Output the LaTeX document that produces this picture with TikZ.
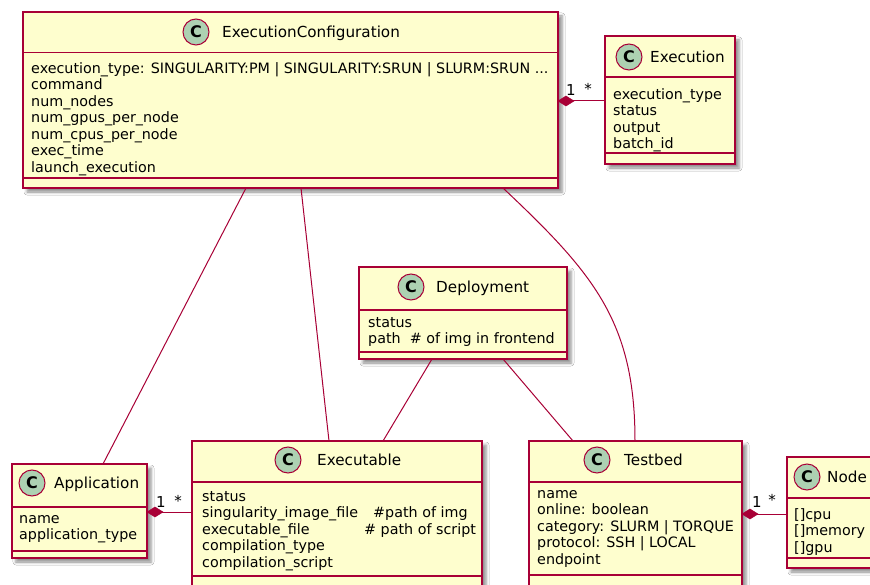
\documentclass[tikz,border=0pt]{standalone}
\usepackage{fontspec}
\setmainfont{DejaVu Sans}
\usetikzlibrary{shadows.blur}

\definecolor{umlfill}{HTML}{FEFECE}
\definecolor{umlborder}{HTML}{A80036}
\definecolor{umlspot}{HTML}{ADD1B2}

\tikzset{
  umlbox/.style={draw=umlborder, fill=umlfill, line width=1.5pt, inner sep=0pt, outer sep=0pt,
    blur shadow={shadow xshift=4pt, shadow yshift=-4pt, shadow blur radius=3pt, shadow opacity=45}},
  sepline/.style={draw=umlborder, line width=1.5pt},
  link/.style={draw=umlborder, line width=1pt},
  spot/.style={circle, draw=umlborder, fill=umlspot, line width=1pt, minimum size=26pt, inner sep=0pt,
    font=\fontsize{16}{16}\selectfont\bfseries},
  classtitle/.style={anchor=base west, inner sep=0pt, font=\fontsize{15.2}{18}\selectfont},
  % attribute lists: the node's north edge sits a strut height above the first baseline
  attrs/.style={anchor=north west, inner sep=0pt, align=left, yshift=8pt,
    font=\fontsize{14.3}{16.5}\selectfont, execute at begin node=\strut},
  mult/.style={inner sep=0pt, font=\fontsize{15}{16}\selectfont},
  composition/.style={fill=umlborder, draw=umlborder, line width=0.5pt}
}

% \umlclass{name}{left}{top}{right}{bottom}{header rule y}{attribute rule y}
\newcommand{\umlclass}[7]{%
  \node[umlbox, minimum width={#4pt-#2pt}, minimum height={#5pt-#3pt}, anchor=north west] (#1) at (#2,#3) {};
  \draw[sepline] (#2,#6) -- (#4,#6);
  \draw[sepline] (#2,#7) -- (#4,#7);
}

\begin{document}
\begin{tikzpicture}[x=1pt, y=-1pt]
\useasboundingbox (0,0) rectangle (870,585);
\fill[white] (0,0) rectangle (870,585);
\clip (0,0) rectangle (870,585);

% ---------- classes ----------
\umlclass{ec}{23}{12}{558}{188}{52.5}{178}
\node[spot] (ecspot) at (196,32) {C};
\node[classtitle] (ectitle) at (222,37.5) {ExecutionConfiguration};
\node[attrs] (ecattrs) at (31,70) {execution\_type: SINGULARITY:PM | SINGULARITY:SRUN | SLURM:SRUN ...\\
command\\ num\_nodes\\ num\_gpus\_per\_node\\ num\_cpus\_per\_node\\ exec\_time\\ launch\_execution};

\umlclass{ex}{605}{36}{735}{164}{77}{153}
\node[spot] (exspot) at (629,57) {C};
\node[classtitle] (extitle) at (650,62.5) {Execution};
\node[attrs] (exattrs) at (613,96) {execution\_type\\ status\\ output\\ batch\_id};

\umlclass{dep}{359}{267}{567}{359}{310}{352}
\node[spot] (depspot) at (411,287) {C};
\node[classtitle] (deptitle) at (436,292.5) {Deployment};
\node[attrs] (depattrs) at (368,325) {status\\ path\ \ \# of img in frontend};

\umlclass{app}{12}{464}{147}{558}{507}{551}
\node[spot] (appspot) at (32,483) {C};
\node[classtitle] (apptitle) at (54,488.5) {Application};
\node[attrs] (appattrs) at (19,523) {name\\ application\_type};

\umlclass{exe}{192}{441}{482}{600}{482}{576}
\node[spot] (exespot) at (288,460) {C};
\node[classtitle] (exetitle) at (317,465.5) {Executable};
\node[attrs] (exeattrs) at (202,499) {status\\
\makebox[171pt][l]{singularity\_image\_file}\#path of img\\
\makebox[162pt][l]{executable\_file}\# path of script\\
compilation\_type\\ compilation\_script};

\umlclass{tb}{529}{441}{742}{600}{482}{575}
\node[spot] (tbspot) at (597,460) {C};
\node[classtitle] (tbtitle) at (624,465.5) {Testbed};
\node[attrs] (tbattrs) at (537,498) {name\\ online: boolean\\ category: SLURM | TORQUE\\ protocol: SSH | LOCAL\\ endpoint};

\umlclass{nd}{787}{457}{900}{568}{498}{558}
\node[spot] (ndspot) at (807,477) {C};
\node[classtitle] (ndtitle) at (827,482.5) {Node};
\node[attrs] (ndattrs) at (794,516) {{[]}cpu\\ {[]}memory\\ {[]}gpu};

% ---------- plain associations ----------
\draw[link] ([xshift=223pt]ec.south west) -- ([xshift=91pt]app.north west);
\draw[link] ([xshift=278pt]ec.south west) -- ([xshift=137pt]exe.north west);
\draw[link] ([xshift=480pt]ec.south west) .. controls +(90,85) and +(0,-120) .. ([xshift=106pt]tb.north west);
\draw[link] ([xshift=73pt]dep.south west) -- ([xshift=191pt]exe.north west);
\draw[link] ([xshift=144pt]dep.south west) -- ([xshift=44pt]tb.north west);

% ---------- compositions ----------
\coordinate (ecC) at ([yshift=-89pt]ec.north east);
\coordinate (exC) at ([yshift=-65pt]ex.north west);
\draw[link] (ecC) -- (exC);
\fill[composition] (ecC) -- ++(8,-5) -- ++(8,5) -- ++(-8,5) -- cycle;
\node[mult] (ecm1) at (571,90) {1};
\node[mult] (ecm2) at (588,89) {*};

\coordinate (appC) at ([yshift=-48pt]app.north east);
\coordinate (exeC) at ([yshift=-71pt]exe.north west);
\draw[link] (appC) -- (exeC);
\fill[composition] (appC) -- ++(8,-5) -- ++(8,5) -- ++(-8,5) -- cycle;
\node[mult] (appm1) at (161,502) {1};
\node[mult] (appm2) at (178,501) {*};

\coordinate (tbC) at ([yshift=-73pt]tb.north east);
\coordinate (ndC) at ([yshift=-57pt]nd.north west);
\draw[link] (tbC) -- (ndC);
\fill[composition] (tbC) -- ++(8,-5) -- ++(8,5) -- ++(-8,5) -- cycle;
\node[mult] (tbm1) at (757,502) {1};
\node[mult] (tbm2) at (772,500) {*};
\end{tikzpicture}
\end{document}
